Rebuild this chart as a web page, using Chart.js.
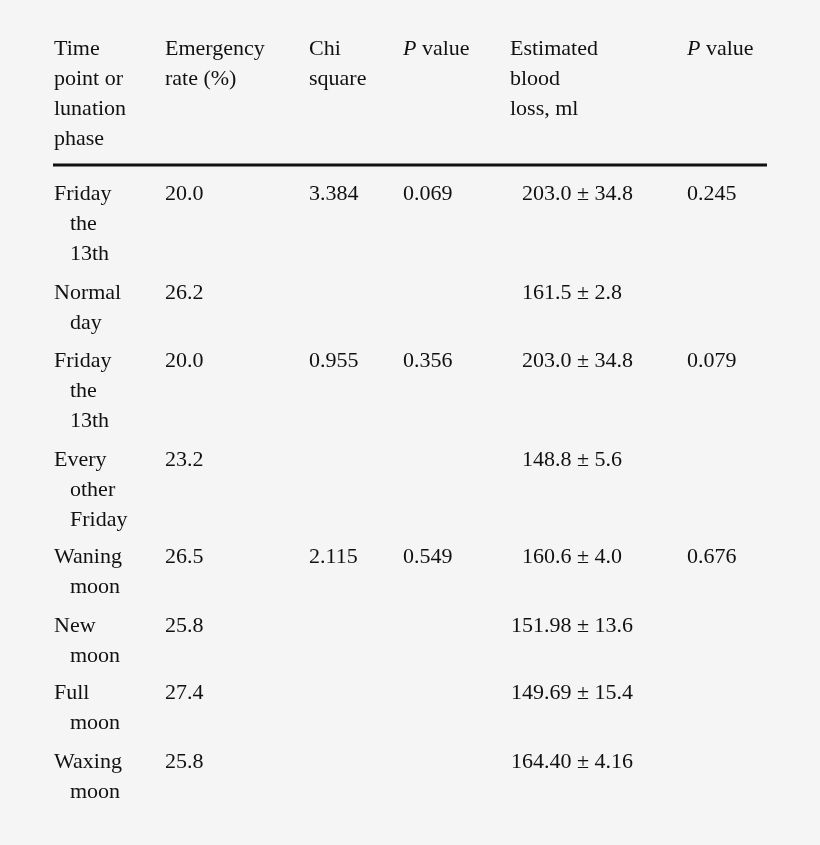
<!DOCTYPE html>
<html><head><meta charset="utf-8">
<script src="https://cdn.jsdelivr.net/npm/chart.js@4"></script>
<style>html,body{margin:0;padding:0;background:#f5f5f5}canvas{display:block}
#pre{font-family:"Liberation Serif";font-size:22px;position:absolute;left:-999px;top:0}</style>
</head><body>
<span id="pre">Liberation Serif <i>P</i></span>
<canvas id="c" width="820" height="845"></canvas>
<script>
// ---- data ----
const categories = [["Friday","the","13th"],["Normal","day"],["Friday","the","13th"],["Every","other","Friday"],["Waning","moon"],["New","moon"],["Full","moon"],["Waxing","moon"]];
const emergencyRate = ["20.0","26.2","20.0","23.2","26.5","25.8","27.4","25.8"];
const chiSquare = ["3.384","","0.955","","2.115","","",""];
const pValue1 = ["0.069","","0.356","","0.549","","",""];
const bloodLoss = [["203.0","34.8"],["161.5","2.8"],["203.0","34.8"],["148.8","5.6"],["160.6","4.0"],["151.98","13.6"],["149.69","15.4"],["164.40","4.16"]];
const pValue2 = ["0.245","","0.079","","0.676","","",""];
const headers = [["Time","point or","lunation","phase"],["Emergency","rate (%)"],["Chi","square"],["P value"],["Estimated","blood","loss, ml"],["P value"]];

// ---- layout ----
const colX = [54,165,309,403,510,687];
const rowY = [194,293,361,460,557,626,693,762];
const lineH = 30, headY = 49, ruleY = 165;
const font = '22px "Liberation Serif"';

const pts = rowY.map(y=>({x:colX[0],y}));
const tablePlugin = {id:'table', afterDraw(chart){
  const ctx=chart.ctx, xs=chart.scales.x, ys=chart.scales.y;
  ctx.save(); ctx.fillStyle='#111'; ctx.textBaseline='middle'; ctx.font=font;
  const txt=(s,x,y,align='left')=>{ctx.textAlign=align;ctx.fillText(s,xs.getPixelForValue(x),ys.getPixelForValue(y));};
  headers.forEach((h,ci)=>h.forEach((l,li)=>{
    const y=headY+li*lineH;
    if(l==="P value"){ctx.font='italic '+font;txt("P",colX[ci],y);const w=ctx.measureText("P").width;ctx.font=font;txt(" value",colX[ci]+w,y);}
    else txt(l,colX[ci],y);
  }));
  ctx.strokeStyle='#111'; ctx.lineWidth=3; ctx.beginPath();
  ctx.moveTo(xs.getPixelForValue(53),ys.getPixelForValue(ruleY));
  ctx.lineTo(xs.getPixelForValue(767),ys.getPixelForValue(ruleY)); ctx.stroke();
  const pmW=ctx.measureText("±").width, pmX=583;
  rowY.forEach((y,i)=>{
    categories[i].forEach((l,li)=>txt(l,colX[0]+(li?16:0),y+li*lineH));
    txt(emergencyRate[i],colX[1],y);
    txt(chiSquare[i],colX[2],y);
    txt(pValue1[i],colX[3],y);
    txt(bloodLoss[i][0]+" ",pmX-pmW/2,y,'right'); txt("±",pmX,y,'center'); txt(" "+bloodLoss[i][1],pmX+pmW/2,y,'left');
    txt(pValue2[i],colX[5],y);
  });
  ctx.restore();
}};
function draw(){
new Chart(document.getElementById('c'),{
  type:'scatter',
  data:{datasets:[{data:pts,pointRadius:0}]},
  options:{responsive:false,animation:false,layout:{padding:0},
    plugins:{legend:{display:false},tooltip:{enabled:false}},
    scales:{x:{type:'linear',min:0,max:820,display:false},y:{type:'linear',min:0,max:845,reverse:true,display:false}}},
  plugins:[tablePlugin]
});}
Promise.all([document.fonts.load(font),document.fonts.load('italic '+font)]).then(draw,draw);
</script></body></html>
